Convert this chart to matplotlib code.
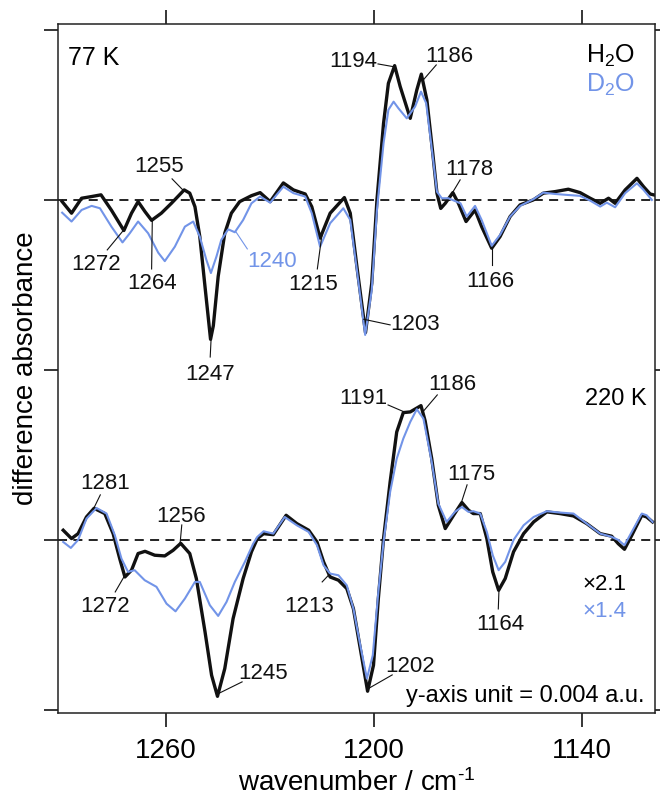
import numpy as np
import matplotlib
matplotlib.use('Agg')
import matplotlib.pyplot as plt

plt.rcParams['font.family'] = 'Liberation Sans'
plt.rcParams['mathtext.fontset'] = 'custom'
plt.rcParams['mathtext.rm'] = 'Liberation Sans'
plt.rcParams['mathtext.it'] = 'Liberation Sans:italic'

# Difference spectra, in y-axis units (1 unit = 0.004 a.u.)
# 77 K, H2O
wn_h2o_77 = [1290, 1287.3, 1284.4, 1281.5, 1278.8, 1275.8, 1272.2, 1270, 1268.1, 1266.1,
             1264.2, 1261.4, 1258.5, 1254.8, 1253.2, 1251.7, 1250.3, 1248.8, 1247.2, 1246.4,
             1245, 1243.1, 1241.2, 1238.8, 1235.4, 1232.9, 1230, 1226.2, 1223.3, 1219.9,
             1218, 1215.6, 1212.7, 1208.6, 1206.9, 1205, 1202.5, 1200.7, 1199.2, 1197.3,
             1195.9, 1194.1, 1192.5, 1189.6, 1187.7, 1186.4, 1184.8, 1183.1, 1181.9, 1180.8,
             1179.5, 1177.3, 1175.7, 1173.5, 1170.9, 1169, 1166.1, 1163.7, 1160.8, 1157.9,
             1154.1, 1151.2, 1147.8, 1144, 1140.6, 1137.7, 1134.8, 1132.4, 1130.5, 1127.6,
             1124.2, 1122.3, 1120.4, 1119.4]
abs_h2o_77 = [-0.01, -0.078, 0.01, 0.02, 0.03, -0.06, -0.18, -0.078, -0.01, -0.069,
              -0.12, -0.078, -0.02, 0.059, 0.04, -0.04, -0.216, -0.51, -0.82, -0.74,
              -0.45, -0.196, -0.078, -0.01, 0.025, 0.043, -0.01, 0.10, 0.059, 0.035,
              -0.04, -0.225, -0.078, 0.014, -0.078, -0.39, -0.78, -0.49, 0.0, 0.45,
              0.686, 0.79, 0.667, 0.48, 0.647, 0.74, 0.588, 0.275, 0.04, -0.05,
              -0.02, 0.043, -0.02, -0.127, -0.059, -0.157, -0.284, -0.216, -0.098, -0.029,
              0.0, 0.04, 0.049, 0.063, 0.043, 0.01, -0.02, 0.01, -0.02, 0.059,
              0.127, 0.078, 0.035, 0.03]

# 77 K, D2O
wn_d2o_77 = [1290, 1287.3, 1284.4, 1281.5, 1279.1, 1275.8, 1272.6, 1270.5, 1268.1, 1265.2,
             1262.3, 1260.4, 1257.5, 1254.6, 1252.2, 1250.3, 1248.4, 1247.1, 1245.5, 1244.1,
             1242.1, 1240.2, 1237.8, 1235.4, 1232.9, 1230, 1226.2, 1223.3, 1219.9, 1218,
             1215.6, 1212.7, 1208.9, 1206.9, 1205, 1202.6, 1200.7, 1199.2, 1197.3, 1195.9,
             1194.4, 1193, 1190.6, 1188.2, 1186.5, 1185, 1183.1, 1181.9, 1180.5, 1178.6,
             1175.1, 1173.3, 1170.9, 1169, 1166.1, 1163.7, 1160.8, 1157.9, 1154.1, 1151.2,
             1147.8, 1144, 1140.6, 1137.7, 1134.8, 1132.9, 1130.5, 1127.6, 1124.2, 1122.3,
             1119.9]
abs_d2o_77 = [-0.075, -0.127, -0.059, -0.035, -0.049, -0.157, -0.25, -0.196, -0.127, -0.196,
              -0.31, -0.36, -0.275, -0.157, -0.127, -0.216, -0.353, -0.43, -0.333, -0.235,
              -0.173, -0.19, -0.118, -0.02, 0.02, -0.016, 0.078, 0.04, 0.02, -0.078,
              -0.275, -0.137, -0.049, -0.118, -0.41, -0.794, -0.53, -0.059, 0.333, 0.53,
              0.578, 0.539, 0.48, 0.549, 0.637, 0.569, 0.255, 0.049, 0.01, 0.01,
              -0.02, -0.098, -0.035, -0.118, -0.27, -0.206, -0.098, -0.035, 0.004, 0.043,
              0.035, 0.029, 0.024, -0.004, -0.039, -0.016, -0.043, 0.04, 0.098, 0.059,
              0.0]

# 220 K, H2O
wn_h2o_220 = [1289.7, 1287.3, 1285.4, 1283, 1280.8, 1277.7, 1275.3, 1273.4, 1271.9, 1270,
              1268.1, 1266.1, 1263.3, 1260.4, 1258, 1255.8, 1253.2, 1251.3, 1248.8, 1246.9,
              1245.2, 1243.1, 1240.7, 1237.8, 1235.4, 1233.7, 1231.9, 1229.1, 1225.4, 1222.3,
              1218.9, 1216.5, 1214.6, 1212.7, 1210.3, 1207.9, 1206, 1204, 1201.9, 1200.2,
              1198.8, 1197.3, 1195.4, 1193.5, 1191.6, 1189.6, 1186.5, 1185.3, 1183.4, 1181.5,
              1179.5, 1177.1, 1174.7, 1172.8, 1171.4, 1169.4, 1167.5, 1165.8, 1164.1, 1162.2,
              1159.8, 1156.9, 1154, 1150.2, 1146.4, 1142.5, 1138.7, 1134.8, 1131.5, 1129.6,
              1127.8, 1125.7, 1122.8, 1121.4, 1119.7]
abs_h2o_220 = [0.057, 0.008, 0.037, 0.135, 0.186, 0.155, 0.037, -0.11, -0.218, -0.178,
               -0.08, -0.067, -0.09, -0.094, -0.061, -0.02, -0.08, -0.227, -0.54, -0.796,
               -0.92, -0.757, -0.463, -0.227, -0.07, 0.008, 0.037, 0.031, 0.145, 0.096,
               0.057, -0.012, -0.129, -0.218, -0.237, -0.286, -0.404, -0.64, -0.89, -0.737,
               -0.345, 0.008, 0.341, 0.635, 0.749, 0.753, 0.79, 0.70, 0.478, 0.204,
               0.067, 0.145, 0.22, 0.175, 0.155, 0.155, 0.008, -0.188, -0.296, -0.227,
               -0.07, 0.037, 0.106, 0.165, 0.155, 0.141, 0.096, 0.037, 0.022, -0.022,
               -0.055, 0.027, 0.145, 0.135, 0.106]

# 220 K, D2O
wn_d2o_220 = [1289.7, 1287.5, 1285.4, 1283, 1280.1, 1277.2, 1274.8, 1272.9, 1271, 1269.1,
              1266.2, 1262.8, 1259.9, 1257.3, 1254.6, 1251.7, 1250.3, 1247.4, 1245, 1242.6,
              1240.2, 1237.3, 1234.9, 1233.7, 1231.9, 1229.1, 1225.8, 1222.3, 1218.9, 1216.5,
              1214.6, 1212.7, 1210.3, 1207.9, 1206, 1204, 1202.1, 1200.4, 1198.8, 1197.3,
              1195.4, 1193.5, 1191.6, 1189.6, 1187.7, 1185.8, 1183.4, 1181.5, 1179.1, 1176.7,
              1174.7, 1172.8, 1171.4, 1169.4, 1167.5, 1165.8, 1164.1, 1162.2, 1159.8, 1156.9,
              1154, 1150.2, 1146.4, 1142.5, 1138.7, 1134.8, 1131.5, 1129.6, 1127.8, 1125.7,
              1122.8, 1121.4, 1119.7]
abs_d2o_220 = [-0.012, -0.047, 0.0, 0.125, 0.188, 0.155, 0.027, -0.11, -0.188, -0.178,
               -0.237, -0.276, -0.375, -0.42, -0.345, -0.247, -0.247, -0.384, -0.447, -0.365,
               -0.247, -0.129, -0.022, 0.018, 0.051, 0.037, 0.135, 0.086, 0.047, -0.031,
               -0.149, -0.198, -0.208, -0.267, -0.404, -0.62, -0.816, -0.678, -0.306, -0.012,
               0.282, 0.478, 0.596, 0.694, 0.769, 0.714, 0.459, 0.214, 0.106, 0.165,
               0.194, 0.165, 0.169, 0.155, 0.047, -0.09, -0.178, -0.129, 0.0, 0.086,
               0.135, 0.169, 0.161, 0.155, 0.096, 0.037, 0.018, 0.0, -0.031, 0.047,
               0.155, 0.145, 0.106]

# vertical offset of the 77 K pair
offset_77 = 2.0

# band labels: (text, band position, which trace)
peaks_77 = [('1194', 1194, 'h'), ('1186', 1186, 'h'), ('1255', 1255, 'h'), ('1272', 1272, 'h'),
            ('1264', 1264, 'h'), ('1247', 1247, 'h'), ('1240', 1240, 'd'), ('1215', 1215, 'h'),
            ('1203', 1203, 'h'), ('1178', 1178, 'h'), ('1166', 1166, 'h')]
peaks_220 = [('1191', 1191, 'h'), ('1186', 1186, 'h'), ('1281', 1281, 'h'), ('1256', 1256, 'h'),
             ('1272', 1272, 'h'), ('1245', 1245, 'h'), ('1213', 1213, 'h'), ('1202', 1202, 'h'),
             ('1175', 1175, 'h'), ('1164', 1164, 'h')]

# label placement: text x, text y, ha, leader end x, leader end y
place_77 = [(1199.1, 2.782, 'right', 1198.9, 2.80), (1178.4, 2.812, 'center', 1182.1, 2.794),
            (1262.0, 2.165, 'center', 1258.3, 2.124), (1280.2, 1.588, 'center', 1277.0, 1.706),
            (1264.2, 1.476, 'center', 1264.2, 1.594), (1247.3, 0.941, 'center', 1247.3, 1.076),
            (1236.6, 1.606, 'left', 1236.6, 1.712), (1217.5, 1.471, 'center', 1216.4, 1.594),
            (1195.4, 1.235, 'left', 1195.4, 1.265), (1172.6, 2.147, 'center', 1175.2, 2.118),
            (1166.4, 1.488, 'center', 1166.0, 1.618)]
place_220 = [(1196.3, 0.80, 'right', 1196.0, 0.794), (1177.4, 0.882, 'center', 1181.8, 0.853),
             (1277.6, 0.30, 'center', 1279.0, 0.265), (1255.7, 0.106, 'center', 1255.5, 0.088),
             (1277.6, -0.424, 'center', 1274.7, -0.306), (1239.2, -0.818, 'left', 1238.1, -0.835),
             (1218.9, -0.424, 'center', 1215.0, -0.247), (1196.8, -0.776, 'left', 1194.8, -0.794),
             (1171.9, 0.353, 'center', 1173.2, 0.324), (1163.7, -0.529, 'center', 1164.2, -0.406)]

black = '#111111'
blue = '#7294e8'

fig = plt.figure(figsize=(6.6, 8.05), dpi=100)
ax = fig.add_axes([0.0879, 0.1143, 0.9045, 0.8559])

# baselines
ax.axhline(offset_77, color=black, lw=1.3, ls=(0, (5, 3.5)), zorder=1)
ax.axhline(0, color=black, lw=1.3, ls=(0, (5, 3.5)), zorder=1)

# spectra
h77 = np.array(abs_h2o_77) + offset_77
d77 = np.array(abs_d2o_77) + offset_77
h220 = np.array(abs_h2o_220)
d220 = np.array(abs_d2o_220)
ax.plot(wn_h2o_77, h77, color=black, lw=2.4, solid_joinstyle='round', zorder=2)
ax.plot(wn_d2o_77, d77, color=blue, lw=1.5, solid_joinstyle='round', zorder=3)
ax.plot(wn_h2o_220, h220, color=black, lw=2.4, solid_joinstyle='round', zorder=2)
ax.plot(wn_d2o_220, d220, color=blue, lw=1.5, solid_joinstyle='round', zorder=3)


def label_bands(peaks, place, wn_h, y_h, wn_d, y_d):
    for (txt, wn, trace), (tx, ty, ha, lx, ly) in zip(peaks, place):
        if trace == 'h':
            py = np.interp(wn, wn_h[::-1], y_h[::-1])
            col = black
        else:
            py = np.interp(wn, wn_d[::-1], y_d[::-1])
            col = blue
        ax.plot([lx, wn], [ly, py], color=col, lw=0.8, zorder=4)
        ax.text(tx, ty, txt, ha=ha, va='baseline', fontsize=16, color=col)


label_bands(peaks_77, place_77, wn_h2o_77, h77, wn_d2o_77, d77)
label_bands(peaks_220, place_220, wn_h2o_220, h220, wn_d2o_220, d220)

ax.text(0.017, 0.9405, '77 K', transform=ax.transAxes, fontsize=18, va='baseline')
ax.text(0.966, 0.9434, r'H$_2$O', transform=ax.transAxes, fontsize=18, va='baseline', ha='right')
ax.text(0.966, 0.901, r'D$_2$O', transform=ax.transAxes, fontsize=18, va='baseline', ha='right',
        color=blue)
ax.text(0.9866, 0.447, '220 K', transform=ax.transAxes, fontsize=17, va='baseline', ha='right')
ax.text(0.953, 0.1785, '\u00d72.1', transform=ax.transAxes, fontsize=16, va='baseline', ha='right')
ax.text(0.953, 0.139, '\u00d71.4', transform=ax.transAxes, fontsize=16, va='baseline', ha='right',
        color=blue)
ax.text(0.983, 0.016, 'y-axis unit = 0.004 a.u.', transform=ax.transAxes, fontsize=17,
        va='baseline', ha='right')

ax.set_xlim(1291.2, 1119.0)
ax.set_ylim(-1.018, 3.035)
ax.set_xticks([1260, 1200, 1140])
ax.set_yticks([-1, 0, 1, 2, 3])
ax.tick_params(axis='both', direction='out', length=10, width=1.1, top=True, right=True,
               labelleft=False, labelsize=20, pad=8)
for s in ax.spines.values():
    s.set_linewidth(1.1)
    s.set_color('#222222')

ax.set_xlabel(r'wavenumber / cm$^{\text{-1}}$', fontsize=20, labelpad=4)
ax.set_ylabel('difference absorbance', fontsize=20, labelpad=4)

fig.savefig('out.png', dpi=100)
